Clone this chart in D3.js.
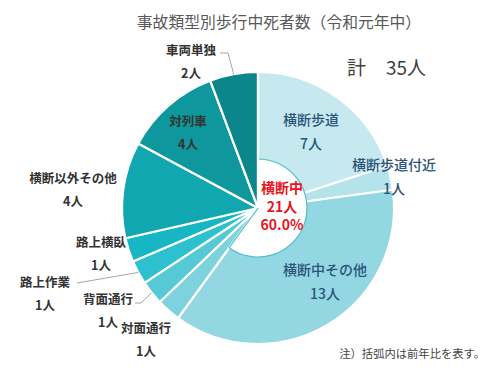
<!DOCTYPE html>
<html><head><meta charset="utf-8">
<script src="https://cdn.jsdelivr.net/npm/d3@7"></script>
<style>
html,body{margin:0;padding:0;background:#fff;}
svg{display:block;font-family:"Noto Sans CJK JP","Noto Sans",sans-serif;}
</style></head>
<body><svg id="c" width="500" height="372"></svg>
<script>
// ---- data ----
const categories = ["横断歩道","横断歩道付近","横断中その他","対面通行","背面通行","路上作業","路上横臥","横断以外その他","対列車","車両単独"];
const values = [7,1,13,1,1,1,1,4,4,2];
const unit = "人";
const title = "事故類型別歩行中死者数（令和元年中）";
const totalLabel = "計";
const total = 35;
const subGroupName = "横断中";
const subGroupValue = 21;
const subGroupShare = "60.0%";
const note = "注）括弧内は前年比を表す。";

// ---- styling / layout ----
const palette = ["#c6e9ef","#b4e3eb","#93d7e2","#7dd2dd","#55c9d5","#2dc0ce","#16b6c4","#11a7b1","#0e979c","#0b878b"];
const cx = 258, cy = 208, R = 136, holeR = 49;
const labelPos = {
  "横断歩道":[311,119],"横断歩道付近":[394,164],"横断中その他":[325,269],
  "対面通行":[146,327],"背面通行":[108,298],"路上作業":[45,281],"路上横臥":[101,241],
  "横断以外その他":[73,177],"対列車":[188,120],"車両単独":[191,49]
};
const insideCats = ["横断歩道","横断歩道付近","横断中その他"];
const leaderStart = {"車両単独":[[220,53],[228,53]],"路上作業":[[77,283]],"背面通行":[[135,303],[141,303]]};

const svg = d3.select("#c");
const color = d3.scaleOrdinal().domain(categories).range(palette);
const data = categories.map((c,i)=>({cat:c,value:values[i]}));
const pie = d3.pie().value(d=>d.value).sort(null);
const arcs = pie(data);
const arc = d3.arc().innerRadius(0).outerRadius(R);
const edge = d3.arc().innerRadius(R).outerRadius(R);

svg.append("text").attr("x",279).attr("y",21).attr("text-anchor","middle")
  .attr("dominant-baseline","central").attr("font-size",15.8).attr("fill","#595959").text(title);

svg.append("text").attr("x",347).attr("y",66).attr("dominant-baseline","central")
  .attr("font-size",19).attr("fill","#404040").text(totalLabel);
svg.append("text").attr("x",386).attr("y",66).attr("dominant-baseline","central")
  .attr("font-size",19).attr("fill","#404040").text(total+unit);

const g = svg.append("g").attr("transform",`translate(${cx},${cy})`);
g.selectAll("path.slice").data(arcs).join("path").attr("class","slice")
  .attr("d",arc).attr("fill",d=>color(d.data.cat))
  .attr("stroke","#fff").attr("stroke-width",2.2).attr("stroke-linejoin","round");

// inner hole for the 横断中 group
const subArcs = arcs.filter(a=>insideCats.includes(a.data.cat));
const hole = d3.arc().innerRadius(0).outerRadius(holeR)
  .startAngle(subArcs[0].startAngle).endAngle(subArcs[subArcs.length-1].endAngle);
g.append("path").attr("d",hole()).attr("fill","#fff").attr("stroke","#4fbfca").attr("stroke-width",1.2);
g.append("line").attr("x1",0).attr("y1",0).attr("x2",0).attr("y2",-R).attr("stroke","#fff").attr("stroke-width",2.2);

// leader lines
arcs.forEach(a=>{
  const s = leaderStart[a.data.cat];
  if(!s) return;
  const p = edge.centroid(a);
  const pts = s.concat([[p[0]+cx,p[1]+cy]]);
  svg.append("path").attr("d",d3.line()(pts)).attr("fill","none").attr("stroke","#a6a6a6").attr("stroke-width",1);
});

// labels
arcs.forEach(a=>{
  const c = a.data.cat, p = labelPos[c];
  const inside = insideCats.includes(c);
  const t = svg.append("text").attr("text-anchor","middle")
    .attr("fill", inside ? "#2b5379" : "#333")
    .attr("font-size", inside ? 14 : 12.5)
    .attr("font-weight", inside ? 500 : 700);
  t.append("tspan").attr("x",p[0]).attr("y",p[1]).attr("dominant-baseline","central").text(c);
  t.append("tspan").attr("x",p[0]).attr("y",p[1]+(inside?24:23)).attr("dominant-baseline","central").text(a.data.value+unit);
});

// center group label
const ct = svg.append("text").attr("text-anchor","middle").attr("fill","#e8141e")
  .attr("font-size",14).attr("font-weight",700);
[subGroupName, subGroupValue+unit, subGroupShare].forEach((s,i)=>{
  ct.append("tspan").attr("x",282).attr("y",187+i*18.5).attr("dominant-baseline","central").text(s);
});

svg.append("text").attr("x",485).attr("y",353).attr("text-anchor","end").attr("dominant-baseline","central")
  .attr("font-size",11.3).attr("fill","#444").text(note);
</script></body></html>
